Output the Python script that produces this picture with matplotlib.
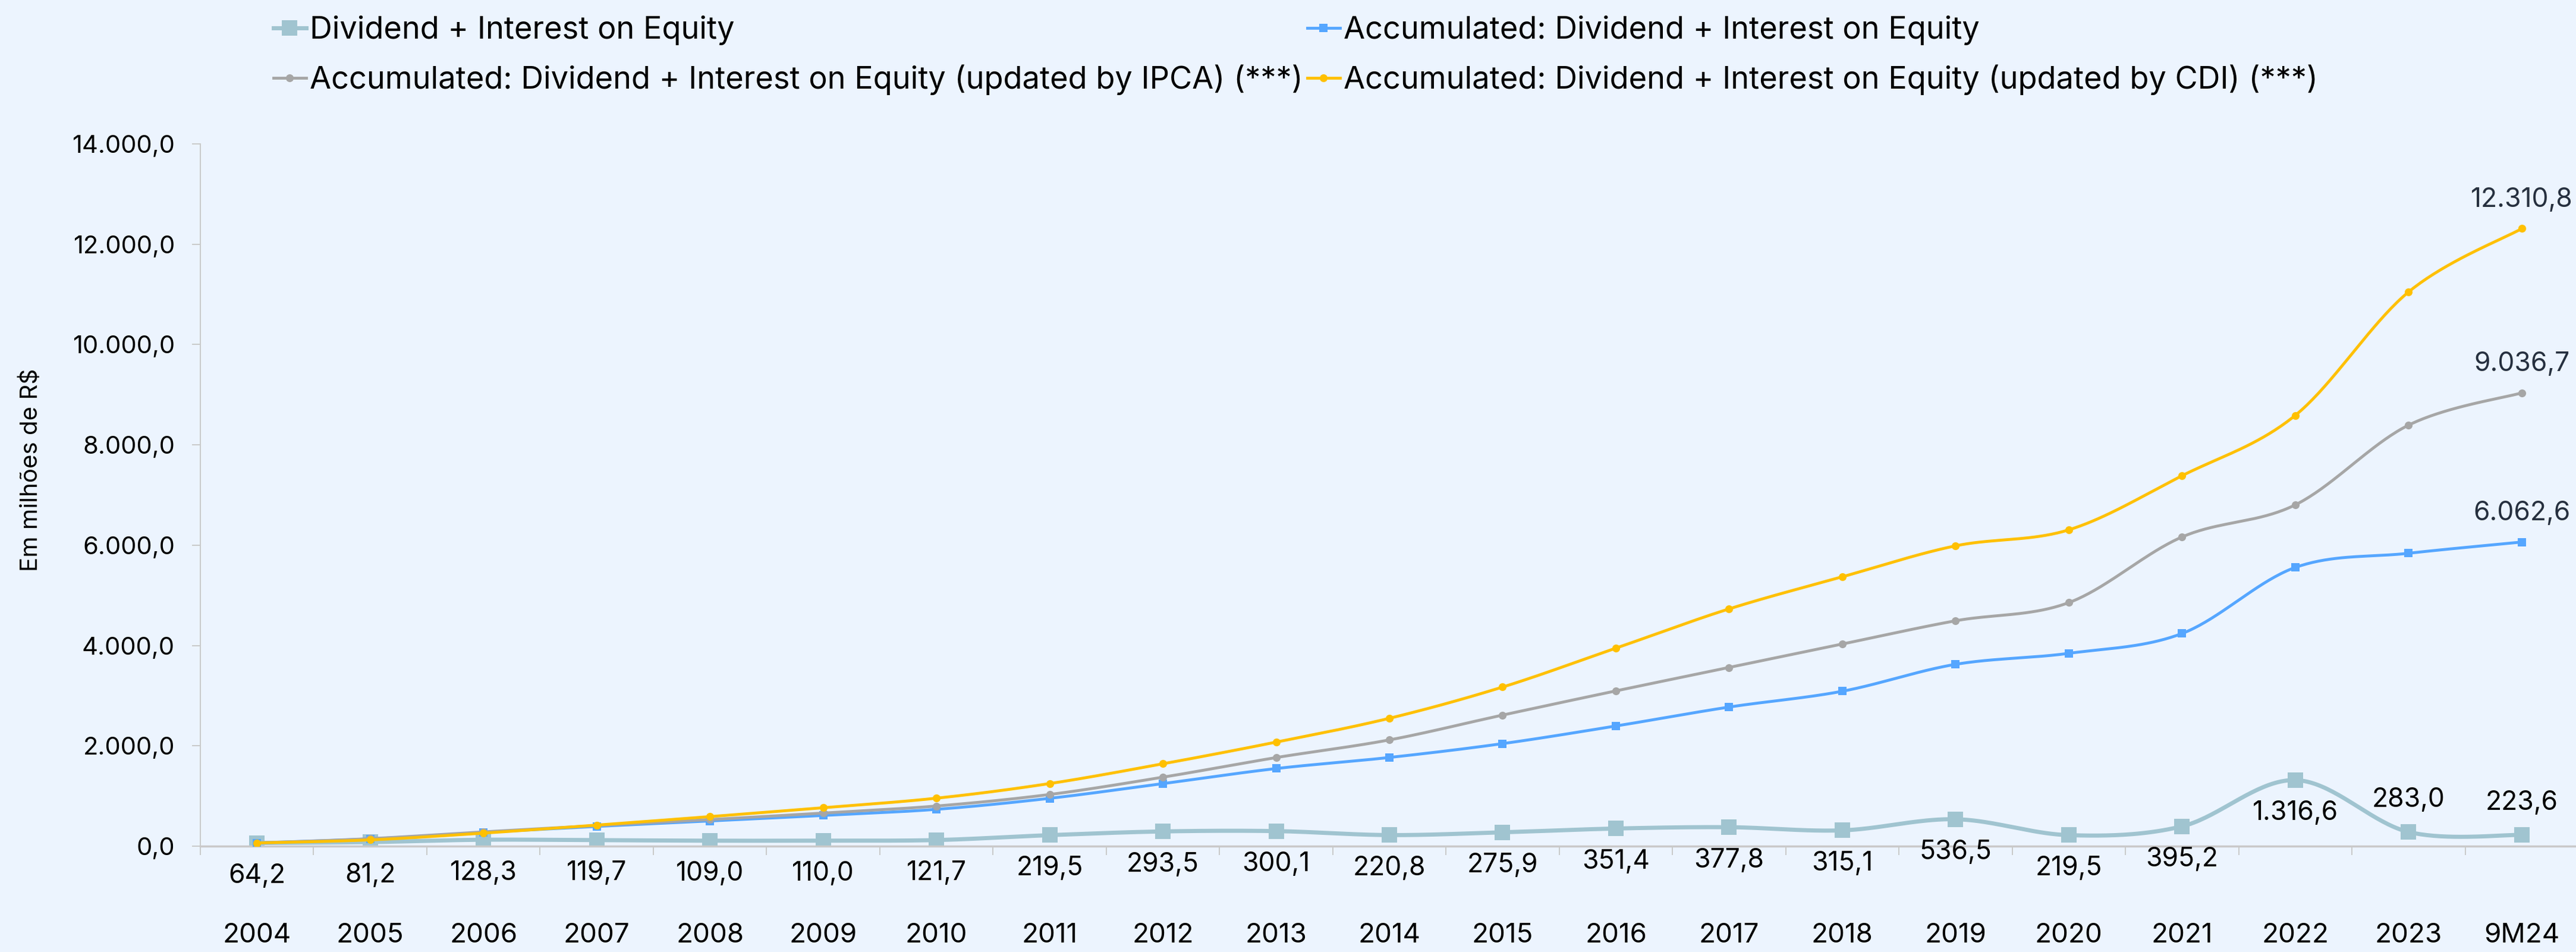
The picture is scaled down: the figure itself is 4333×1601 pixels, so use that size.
import numpy as np
import matplotlib.pyplot as plt
from matplotlib.lines import Line2D
from matplotlib.ticker import FuncFormatter

plt.rcParams['font.family'] = ['Inter', 'DejaVu Sans']

# ---------------------------- data ---------------------------- #

periods = ['2004', '2005', '2006', '2007', '2008', '2009', '2010', '2011',
           '2012', '2013', '2014', '2015', '2016', '2017', '2018', '2019',
           '2020', '2021', '2022', '2023', '9M24']

dividends = [64.2, 81.2, 128.3, 119.7, 109.0, 110.0, 121.7, 219.5, 293.5,
             300.1, 220.8, 275.9, 351.4, 377.8, 315.1, 536.5, 219.5, 395.2,
             1316.6, 283.0, 223.6]

accumulated = [64.2, 145.4, 273.7, 393.4, 502.4, 612.4, 734.1, 953.6, 1247.1,
               1547.2, 1768.0, 2043.9, 2395.3, 2773.1, 3088.2, 3624.7, 3844.2,
               4239.4, 5556.0, 5839.0, 6062.6]

accumulated_ipca = [64.2, 150.0, 285.0, 410.0, 530.0, 660.0, 800.0, 1030.0,
                    1375.0, 1766.0, 2118.0, 2613.0, 3095.0, 3562.0, 4030.0,
                    4493.0, 4855.0, 6164.0, 6804.0, 8393.0, 9036.7]

accumulated_cdi = [64.2, 125.0, 260.0, 420.0, 589.0, 767.0, 956.0, 1248.0,
                   1642.0, 2074.0, 2549.0, 3172.0, 3947.0, 4730.0, 5370.0,
                   5987.0, 6306.0, 7385.0, 8588.0, 11048.0, 12310.8]

labels = ['Dividend + Interest on Equity',
          'Accumulated: Dividend + Interest on Equity',
          'Accumulated: Dividend + Interest on Equity (updated by IPCA) (***)',
          'Accumulated: Dividend + Interest on Equity (updated by CDI) (***)']

# labels of the yearly series that sit above the point instead of below
label_above = ['2023', '9M24']

BG = '#ECF4FE'
TEAL = '#A0C4D0'
BLUE = '#55A6FF'
GRAY = '#A6A6A6'
YELLOW = '#FFC000'
AXIS = '#C9C9C9'


def fmt_br(v, pos=None):
    s = f'{v:,.1f}'
    return s.replace(',', 'X').replace('.', ',').replace('X', '.')


def smooth(x, y, n=40):
    # cubic bezier through every point, control points from the neighbours
    pts = np.column_stack([x, y]).astype(float)
    out = [pts[:1]]
    t = np.linspace(0, 1, n)[1:, None]
    for i in range(len(pts) - 1):
        p0 = pts[i - 1] if i > 0 else pts[i]
        p1 = pts[i]
        p2 = pts[i + 1]
        p3 = pts[i + 2] if i + 2 < len(pts) else pts[i + 1]
        c1 = p1 + (p2 - p0) / 6.0
        c2 = p2 - (p3 - p1) / 6.0
        seg = ((1 - t) ** 3) * p1 + 3 * ((1 - t) ** 2) * t * c1 \
            + 3 * (1 - t) * t ** 2 * c2 + t ** 3 * p2
        out.append(seg)
    res = np.vstack(out)
    return res[:, 0], res[:, 1]


# ---------------------------- plot ---------------------------- #

W, H = 4333, 1601
fig = plt.figure(figsize=(W / 100, H / 100), dpi=100, facecolor=BG)
ax = fig.add_axes([337 / W, 178 / H, 4000 / W, 1181 / H])
ax.set_facecolor(BG)

x = np.arange(len(periods))

styles = [
    (dividends, TEAL, 's', 19, 5.0),
    (accumulated, BLUE, 's', 10, 3.5),
    (accumulated_ipca, GRAY, 'o', 9.5, 3.5),
    (accumulated_cdi, YELLOW, 'o', 9.5, 3.5),
]

handles = []
for z, (vals, color, marker, ms, lw) in enumerate(styles):
    sx, sy = smooth(x, vals)
    ax.plot(sx, sy, color=color, lw=lw, solid_capstyle='round', zorder=2 + z)
    ax.plot(x, vals, linestyle='none', marker=marker, markersize=ms,
            color=color, markeredgewidth=0, zorder=2 + z)
    handles.append(Line2D([], [], color=color, lw=lw, marker=marker,
                          markersize=ms, markeredgewidth=0))

# yearly values written under (or over) each point
for i, v in enumerate(dividends):
    dy = 39 if periods[i] in label_above else -40
    ax.annotate(fmt_br(v), (x[i], v), xytext=(0, dy), textcoords='offset points',
                ha='center', va='center', fontsize=32, color='black', zorder=10)

# closing values of the accumulated series
for vals in (accumulated, accumulated_ipca, accumulated_cdi):
    ax.annotate(fmt_br(vals[-1]), (x[-1], vals[-1]), xytext=(0, 35),
                textcoords='offset points', ha='center', va='center',
                fontsize=32, color='#26303F', zorder=10)

ax.set_xlim(-0.5, len(periods) - 0.5)
ax.set_ylim(0, 14000)
ax.set_yticks(np.arange(0, 14001, 2000))
ax.yaxis.set_major_formatter(FuncFormatter(fmt_br))
ax.tick_params(axis='y', length=10, width=1.4, color=AXIS, pad=21,
               labelsize=30, labelcolor='black')

ax.set_xticks(x)
ax.set_xticklabels(periods)
ax.set_xticks(np.arange(-0.5, len(periods), 1.0), minor=True)
ax.tick_params(axis='x', which='major', length=0, pad=93, labelsize=33,
               labelcolor='black')
ax.tick_params(axis='x', which='minor', length=11, width=1.4, color=AXIS)

for side in ('top', 'right'):
    ax.spines[side].set_visible(False)
ax.spines['left'].set_color(AXIS)
ax.spines['left'].set_linewidth(1.4)
ax.spines['bottom'].set_color(AXIS)
ax.spines['bottom'].set_linewidth(2.5)

fig.text(52 / W, 1 - 790 / H, 'Em milhões de R$', rotation=90, ha='center',
         va='center', fontsize=29, color='black')

leg_kw = dict(loc='upper left', frameon=False, fontsize=37.7, handlelength=1.05,
              handletextpad=0.12, labelspacing=0.62, borderpad=0,
              borderaxespad=0)
fig.legend([handles[0], handles[2]], [labels[0], labels[2]],
           bbox_to_anchor=(460 / W, 1 - 26 / H), **leg_kw)
fig.legend([handles[1], handles[3]], [labels[1], labels[3]],
           bbox_to_anchor=(2199 / W, 1 - 26 / H), **leg_kw)

fig.savefig('out.png', dpi=100, facecolor=BG)
